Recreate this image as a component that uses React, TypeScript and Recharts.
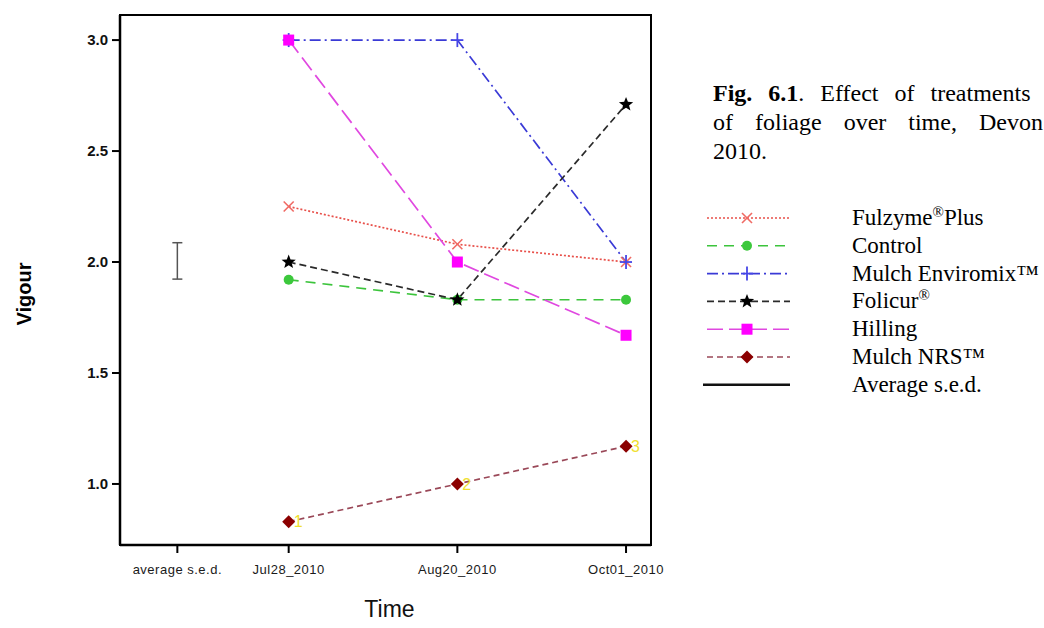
import React from "react";
import {
  ComposedChart,
  Line,
  Scatter,
  XAxis,
  YAxis,
  ErrorBar,
  ReferenceArea,
  LabelList,
} from "recharts";

// time points on the x axis (equally spaced) plus the s.e.d. slot at the left
const TIMES = ["Jul28_2010", "Aug20_2010", "Oct01_2010"];
const TIME_POS = [1, 2, 3];
const SED_POS = 0.34;
const SED_LABEL = "average s.e.d.";

// mean vigour score per treatment
const FULZYME = [2.25, 2.08, 2.0];
const CONTROL = [1.92, 1.83, 1.83];
const ENVIROMIX = [3.0, 3.0, 2.0];
const FOLICUR = [2.0, 1.83, 2.71];
const HILLING = [3.0, 2.0, 1.67];
const NRS = [0.83, 1.0, 1.17];
const NRS_TAGS = ["1", "2", "3"];

const SED_MEAN = 2.005;
const SED_HALF = 0.082;

const Y_TICKS = [1.0, 1.5, 2.0, 2.5, 3.0];
const X_DOMAIN: [number, number] = [0, 3.148];
const Y_DOMAIN: [number, number] = [0.725, 3.113];

const rows = TIME_POS.map((t, i) => ({
  t,
  fulzyme: FULZYME[i],
  control: CONTROL[i],
  enviromix: ENVIROMIX[i],
  folicur: FOLICUR[i],
  hilling: HILLING[i],
  nrs: NRS[i],
  tag: NRS_TAGS[i],
}));

const sedRows = [{ t: SED_POS, sed: SED_MEAN, err: SED_HALF }];

type Shape = "cross" | "circle" | "plus" | "star" | "square" | "diamond";

const SERIES: {
  key: string;
  name: React.ReactNode;
  line: string;
  mark: string;
  dash: string;
  shape: Shape;
}[] = [
  { key: "fulzyme", name: <>Fulzyme<tspan dy={-8} fontSize={15}>®</tspan><tspan dy={8}>Plus</tspan></>, line: "#e8504a", mark: "#f06a64", dash: "2 2", shape: "cross" },
  { key: "control", name: "Control", line: "#3cc43c", mark: "#3cc83c", dash: "10 7", shape: "circle" },
  { key: "enviromix", name: "Mulch Enviromix™", line: "#3a3ad6", mark: "#4646e6", dash: "11 4 2 4", shape: "plus" },
  { key: "folicur", name: <>Folicur<tspan dy={-8} fontSize={15}>®</tspan></>, line: "#2a2a2a", mark: "#000000", dash: "7 4", shape: "star" },
  { key: "hilling", name: "Hilling", line: "#e048e0", mark: "#ff00ff", dash: "16 6", shape: "square" },
  { key: "nrs", name: "Mulch NRS™", line: "#9a4858", mark: "#8b0000", dash: "6 4", shape: "diamond" },
];

function marker(shape: Shape, color: string, cx: number, cy: number, k?: string | number) {
  switch (shape) {
    case "cross":
      return (
        <g key={k} stroke={color} strokeWidth={1.6}>
          <line x1={cx - 5} y1={cy - 5} x2={cx + 5} y2={cy + 5} />
          <line x1={cx - 5} y1={cy + 5} x2={cx + 5} y2={cy - 5} />
        </g>
      );
    case "circle":
      return <circle key={k} cx={cx} cy={cy} r={5} fill={color} />;
    case "plus":
      return (
        <g key={k} stroke={color} strokeWidth={1.8}>
          <line x1={cx} y1={cy - 7} x2={cx} y2={cy + 7} />
          <line x1={cx - 6} y1={cy} x2={cx + 6} y2={cy} />
        </g>
      );
    case "star": {
      const pts: string[] = [];
      for (let i = 0; i < 10; i++) {
        const r = i % 2 === 0 ? 7.5 : 3.2;
        const a = -Math.PI / 2 + (i * Math.PI) / 5;
        pts.push(`${cx + r * Math.cos(a)},${cy + r * Math.sin(a)}`);
      }
      return <polygon key={k} points={pts.join(" ")} fill={color} />;
    }
    case "square":
      return <rect key={k} x={cx - 5.5} y={cy - 5.5} width={11} height={11} fill={color} />;
    case "diamond":
      return (
        <polygon
          key={k}
          points={`${cx},${cy - 6.5} ${cx + 6.5},${cy} ${cx},${cy + 6.5} ${cx - 6.5},${cy}`}
          fill={color}
        />
      );
  }
}

const serif = "'Liberation Serif', 'Times New Roman', serif";
const sans = "'Liberation Sans', Arial, Helvetica, sans-serif";

// legend sits to the right of the plot, under the caption
function LegendBox() {
  const top = 18;
  const step = 27.8;
  return (
    <svg width={344} height={210} style={{ position: "absolute", left: 700, top: 200 }}>
      {SERIES.map((s, i) => {
        const y = top + i * step;
        return (
          <g key={s.key}>
            <line x1={7} x2={90} y1={y} y2={y} stroke={s.line} strokeWidth={1.6} strokeDasharray={s.dash} />
            {marker(s.shape, s.mark, 47, y)}
            <text x={152} y={y + 7} fontFamily={serif} fontSize={23} fill="#000">
              {s.name}
            </text>
          </g>
        );
      })}
      <line x1={3} x2={90} y1={top + 6 * step} y2={top + 6 * step} stroke="#111" strokeWidth={2.5} />
      <text x={152} y={top + 6 * step + 7} fontFamily={serif} fontSize={23} fill="#000">
        Average s.e.d.
      </text>
    </svg>
  );
}

function Caption() {
  return (
    <svg width={340} height={120} style={{ position: "absolute", left: 704, top: 70 }}>
      <text x={9} y={31} fontFamily={serif} fontSize={24} wordSpacing={10}>
        <tspan fontWeight="bold">Fig. 6.1</tspan>. Effect of treatments
      </text>
      <text x={9} y={60} fontFamily={serif} fontSize={24} wordSpacing={16}>
        of foliage over time, Devon
      </text>
      <text x={9} y={89} fontFamily={serif} fontSize={24}>
        2010.
      </text>
    </svg>
  );
}

export default function App() {
  const xLabel = (v: number) => {
    if (v === SED_POS) return SED_LABEL;
    const i = TIME_POS.indexOf(v);
    return i >= 0 ? TIMES[i] : "";
  };
  return (
    <div style={{ position: "absolute", left: 0, top: 0, width: 1044, height: 628, overflow: "hidden", background: "#fff" }}>
      <ComposedChart
        width={1044}
        height={628}
        data={rows}
        margin={{ top: 15, right: 393, bottom: 0, left: 0 }}
      >
        <XAxis
          dataKey="t"
          type="number"
          domain={X_DOMAIN}
          ticks={[SED_POS, ...TIME_POS]}
          tickFormatter={xLabel}
          allowDataOverflow
          height={83}
          axisLine={{ stroke: "#000", strokeWidth: 2.5 }}
          tickLine={{ stroke: "#000", strokeWidth: 2 }}
          tickSize={8}
          tickMargin={12}
          tick={{ fill: "#1a1a1a", fontSize: 13, fontFamily: sans, letterSpacing: 0.5 }}
          label={{
            content: ({ viewBox }: any) => (
              <text
                x={viewBox.x + viewBox.width / 2 + 4}
                y={viewBox.y + 72}
                textAnchor="middle"
                fontFamily={sans}
                fontSize={23}
                fill="#111"
              >
                Time
              </text>
            ),
          }}
        />
        <YAxis
          type="number"
          domain={Y_DOMAIN}
          ticks={Y_TICKS}
          tickFormatter={(v: number) => v.toFixed(1)}
          allowDataOverflow
          width={120}
          axisLine={{ stroke: "#000", strokeWidth: 2.5 }}
          tickLine={{ stroke: "#000", strokeWidth: 2 }}
          tickSize={8}
          tickMargin={4}
          tick={{ fill: "#111", fontSize: 15, fontFamily: sans, fontWeight: 600 }}
          label={{
            content: ({ viewBox }: any) => {
              const x = viewBox.x + 31;
              const y = viewBox.y + viewBox.height / 2 + 14;
              return (
                <text
                  x={x}
                  y={y}
                  transform={`rotate(-90, ${x}, ${y})`}
                  textAnchor="middle"
                  fontFamily={sans}
                  fontWeight="bold"
                  fontSize={20}
                  fill="#000"
                >
                  Vigour
                </text>
              );
            },
          }}
        />
        <ReferenceArea
          x1={X_DOMAIN[0]}
          x2={X_DOMAIN[1]}
          y1={Y_DOMAIN[0]}
          y2={Y_DOMAIN[1]}
          fill="#fff"
          fillOpacity={0}
          stroke="#000"
          strokeWidth={2}
          ifOverflow="visible"
        />
        <Scatter data={sedRows} dataKey="sed" shape={() => <g />} isAnimationActive={false}>
          <ErrorBar dataKey="err" direction="y" width={5} stroke="#555" strokeWidth={1.5} isAnimationActive={false} />
        </Scatter>
        {SERIES.map((s) => (
          <Line
            key={s.key}
            dataKey={s.key}
            type="linear"
            stroke={s.line}
            strokeWidth={1.7}
            strokeDasharray={s.dash}
            dot={(p: any) => marker(s.shape, s.mark, p.cx, p.cy, `${s.key}-${p.index}`)}
            activeDot={false}
            isAnimationActive={false}
          >
            {s.key === "nrs" && (
              <LabelList dataKey="tag" position="right" offset={5} fill="#f0e030" fontSize={16} fontFamily={sans} />
            )}
          </Line>
        ))}
      </ComposedChart>
      <LegendBox />
      <Caption />
    </div>
  );
}
